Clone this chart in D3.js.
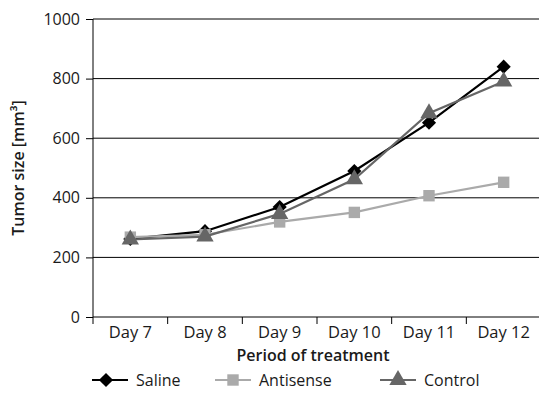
<!DOCTYPE html>
<html>
<head>
<meta charset="utf-8">
<script src="https://cdn.jsdelivr.net/npm/d3@7"></script>
<style>
  body { margin: 0; background: #fff; }
  text { font-family: "Open Sans", "Noto Sans", sans-serif; fill: #1a1a1a; }
</style>
</head>
<body>
<div id="chart"></div>
<script>
const days = ["Day 7", "Day 8", "Day 9", "Day 10", "Day 11", "Day 12"];
const saline = [262, 288, 369, 490, 652, 840];
const antisense = [268, 276, 319, 351, 407, 452];
const control = [260, 270, 346, 462, 684, 790];
const yTicks = [0, 200, 400, 600, 800, 1000];

const width = 539, height = 406;
const margin = { top: 19, right: 0, bottom: 89, left: 93 };
const chartWidth = width - margin.left - margin.right;
const chartHeight = height - margin.top - margin.bottom;

const series = [
  { title: "Saline", values: saline, colour: "#000000", shape: d3.symbolSquare, size: 100, rotate: 45 },
  { title: "Antisense", values: antisense, colour: "#aaaaaa", shape: d3.symbolSquare, size: 130, rotate: 0 },
  { title: "Control", values: control, colour: "#666666", shape: d3.symbolTriangle, size: 130, rotate: 0 }
];

const xScale = d3.scaleBand().domain(days).range([0, chartWidth + 2]);
const yScale = d3.scaleLinear().domain([0, 1000]).range([chartHeight, 0]);

const svg = d3.select("#chart").append("svg")
  .attr("width", width).attr("height", height);

const chart = svg.append("g")
  .attr("transform", `translate(${margin.left},${margin.top})`);

// gridlines
chart.append("g").selectAll("line")
  .data(yTicks.filter(d => d > 0))
  .enter().append("line")
  .attr("x1", 0).attr("x2", chartWidth)
  .attr("y1", d => yScale(d)).attr("y2", d => yScale(d))
  .style("stroke", "#000").style("stroke-width", 1);

const yAxis = chart.append("g")
  .call(d3.axisLeft(yScale).tickValues(yTicks).tickFormat(d3.format("d")).tickSize(7).tickPadding(6));
yAxis.select(".domain").attr("d", `M0,${chartHeight}V0`);
yAxis.selectAll("text").style("font-size", "16px");

const xAxis = chart.append("g")
  .attr("transform", `translate(0,${chartHeight})`)
  .call(d3.axisBottom(xScale).tickSize(0).tickPadding(9));
xAxis.select(".domain").attr("d", `M0,0H${chartWidth}`);
xAxis.selectAll("text").style("font-size", "16.5px");
// tick marks between categories
xAxis.selectAll(".sep")
  .data(days)
  .enter().append("line")
  .attr("class", "sep")
  .attr("x1", d => xScale(d)).attr("x2", d => xScale(d))
  .attr("y1", 0).attr("y2", 7)
  .style("stroke", "#000");

const line = d3.line()
  .x((d, i) => xScale(days[i]) + xScale.bandwidth() / 2)
  .y(d => yScale(d));

series.forEach(s => {
  const g = chart.append("g");
  g.append("path")
    .datum(s.values)
    .attr("d", line)
    .style("fill", "none")
    .style("stroke", s.colour)
    .style("stroke-width", 2.2);
  g.selectAll("path.pt")
    .data(s.values)
    .enter().append("path")
    .attr("class", "pt")
    .attr("d", d3.symbol().type(s.shape).size(s.size))
    .attr("transform", (d, i) => `translate(${xScale(days[i]) + xScale.bandwidth() / 2},${yScale(d)}) rotate(${s.rotate})`)
    .style("fill", s.colour);
});

// axis titles
svg.append("text")
  .attr("x", margin.left + chartWidth / 2 - 3)
  .attr("y", 361)
  .attr("text-anchor", "middle")
  .style("font-size", "16px").style("font-weight", "600")
  .text("Period of treatment");

svg.append("text")
  .attr("transform", `translate(24,${margin.top + chartHeight / 2}) rotate(-90)`)
  .attr("text-anchor", "middle")
  .style("font-size", "16px").style("font-weight", "600")
  .text("Tumor size [mm³]");

// legend
const legendX = [92, 215, 380];
const legend = svg.append("g").attr("transform", "translate(0,380)");
series.forEach((s, i) => {
  const g = legend.append("g").attr("transform", `translate(${legendX[i]},0)`);
  g.append("line").attr("x1", 0).attr("x2", 36)
    .style("stroke", s.colour).style("stroke-width", 2.2);
  g.append("path")
    .attr("d", d3.symbol().type(s.shape).size(s.size))
    .attr("transform", `translate(${i === 0 ? 14 : 18},0) rotate(${s.rotate})`)
    .style("fill", s.colour);
  g.append("text").attr("x", 44).attr("dy", "0.35em")
    .style("font-size", "16px")
    .text(s.title);
});
</script>
</body>
</html>
